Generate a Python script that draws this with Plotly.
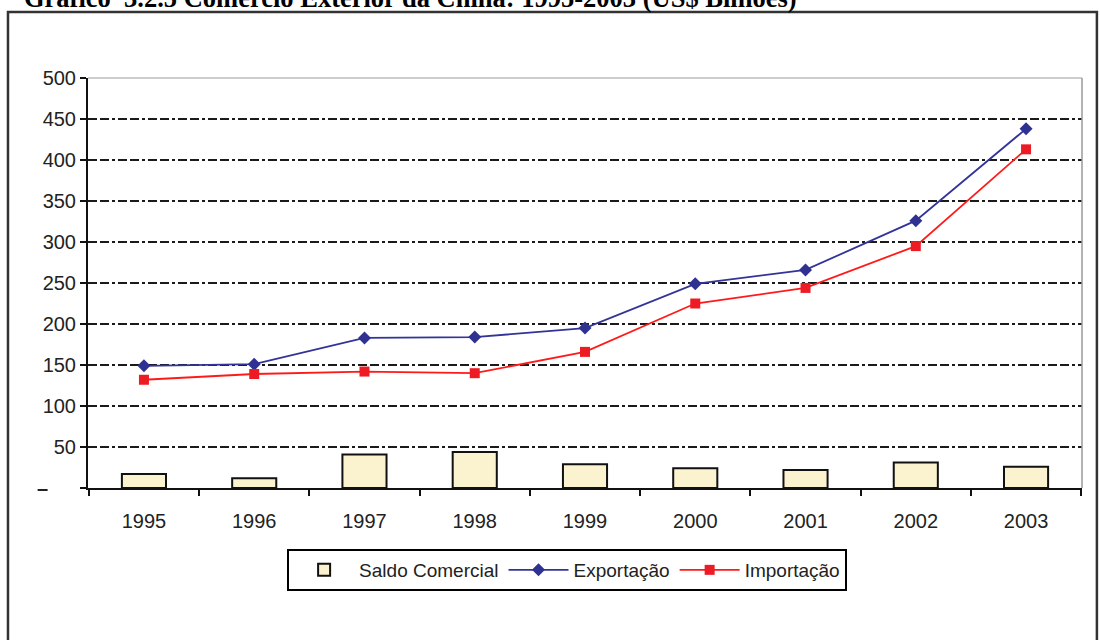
import plotly.graph_objects as go

anos = ["1995", "1996", "1997", "1998", "1999", "2000", "2001", "2002", "2003"]
exportacao = [149, 151, 183, 184, 195, 249, 266, 326, 438]
importacao = [132, 139, 142, 140, 166, 225, 244, 295, 413]
saldo = [17, 12, 41, 44, 29, 24, 22, 31, 26]

y_ticks = [0, 50, 100, 150, 200, 250, 300, 350, 400, 450, 500]
y_labels = ["<b>–</b>\u00a0\u00a0\u00a0\u00a0\u00a0"] + [str(v) for v in y_ticks[1:]]

titulo = "Gráfico  3.2.5 Comércio Exterior da China: 1995-2003 (US$ Bilhões)"

fig = go.Figure()

fig.add_trace(go.Bar(
    x=anos, y=saldo, name="Saldo Comercial",
    marker=dict(color="#FBF2CF", line=dict(color="#111111", width=2)),
    width=0.4,
))
fig.add_trace(go.Scatter(
    x=anos, y=exportacao, name="Exportação", mode="lines+markers",
    line=dict(color="#333399", width=1.8),
    marker=dict(symbol="diamond", size=10, color="#2E3192"),
))
fig.add_trace(go.Scatter(
    x=anos, y=importacao, name="Importação", mode="lines+markers",
    line=dict(color="#FF1A1A", width=1.8),
    marker=dict(symbol="square", size=10, color="#ED1C24"),
))

# moldura externa do gráfico
fig.add_shape(type="rect", xref="paper", yref="paper",
              x0=-0.0805, x1=1.015, y0=-0.40, y1=1.161,
              line=dict(color="#333333", width=2.5), layer="below")
# bordas cinza do plot (topo e direita)
fig.add_shape(type="line", xref="paper", yref="paper", x0=0, x1=1, y0=1, y1=1,
              line=dict(color="#9A9A9A", width=1))
fig.add_shape(type="line", xref="paper", yref="paper", x0=1, x1=1, y0=0, y1=1,
              line=dict(color="#9A9A9A", width=1.5))

# título (cortado no topo, como na imagem original)
fig.add_annotation(text="<b>" + titulo + "</b>", xref="paper", yref="paper",
                   x=-0.066, y=1.153, xanchor="left", yanchor="bottom",
                   showarrow=False,
                   font=dict(family="Liberation Serif", size=26.5, color="#000000"))

fig.update_layout(
    width=1100, height=640,
    margin=dict(l=88, r=18, t=78, b=152),
    paper_bgcolor="white", plot_bgcolor="white",
    font=dict(family="Liberation Sans", size=20, color="#222222"),
    bargap=0.6,
    showlegend=True,
    legend=dict(
        orientation="h", x=0.482, y=-0.2, xanchor="center", yanchor="middle",
        bordercolor="#000000", borderwidth=2, font=dict(size=19),
        traceorder="normal", itemwidth=60,
    ),
    xaxis=dict(
        type="category", showgrid=False, showline=True,
        linecolor="#111111", linewidth=2,
        ticks="outside", ticklen=6, tickwidth=2, tickcolor="#111111",
        tickson="boundaries", ticklabelstandoff=14,
    ),
    yaxis=dict(
        range=[0, 500], tickvals=y_ticks, ticktext=y_labels,
        showline=True, linecolor="#111111", linewidth=2,
        ticks="outside", ticklen=6, tickwidth=2, tickcolor="#111111",
        showgrid=True, gridcolor="#1A1A1A", gridwidth=1.5,
        griddash="9px,3px,9px,3px,3px,3px",
        zeroline=False,
    ),
)

fig.write_html("out.html", config={"displayModeBar": False},
               post_script="document.body.style.margin='0';")
